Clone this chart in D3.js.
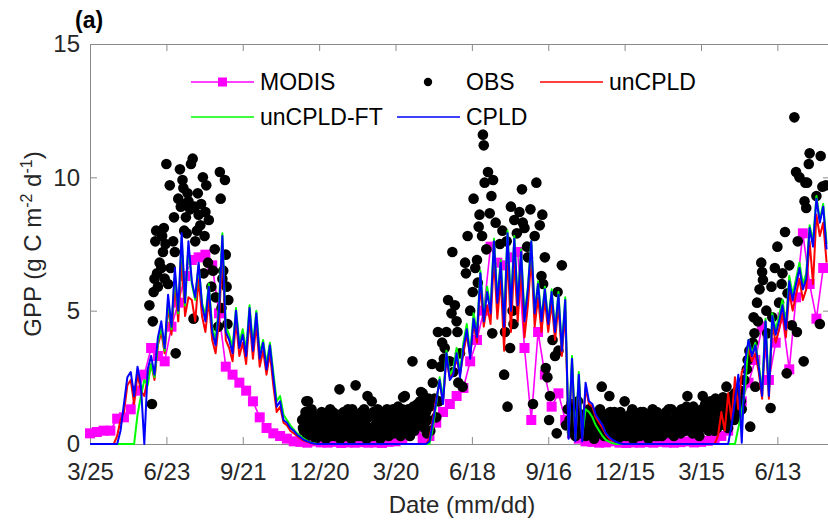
<!DOCTYPE html>
<html>
<head>
<meta charset="utf-8">
<script src="https://cdn.jsdelivr.net/npm/d3@7"></script>
<style>
  body { margin: 0; background: #fff; }
  svg { display: block; }
</style>
</head>
<body>
<div id="plot"></div>
<script>
var FONT = "'Liberation Sans', Arial, Helvetica, sans-serif";

// x ticks every 90 days, counted from 3/25 of the first year
var tickDays = [0, 90, 180, 270, 360, 450, 540, 630, 720, 810];
var tickLabels = ["3/25", "6/23", "9/21", "12/20", "3/20", "6/18", "9/16", "12/15", "3/15", "6/13"];
var yTicks = [0, 5, 10, 15];

// model runs, one value every 4 days from 3/25 (10 values = 40 days per row)
var modelStep = 4;
var cpld = [
  0, 0, 0, 0, 0, 0, 0, 0, 0, 0.5,
  1.5, 2.5, 2.7, 1.8, 2.9, 2.2, 0, 2.8, 3.3, 2.6,
  4.0, 4.6, 3.6, 5.6, 4.4, 6.6, 5.0, 7.9, 5.3, 7.6,
  6.1, 5.5, 6.8, 5.2, 4.6, 5.9, 4.2, 3.7, 5.0, 7.8,
  4.2, 3.9, 3.4, 5.0, 3.6, 4.1, 3.3, 5.1, 3.5, 4.9,
  3.2, 3.8, 2.8, 3.7, 2.5, 1.4, 1.6, 0.9, 0.8, 0.6,
  0.5, 0.35, 0.25, 0.15, 0.1, 0.05, 0.02, 0, 0, 0,
  0, 0, 0, 0, 0, 0, 0, 0, 0, 0,
  0, 0, 0, 0, 0, 0, 0, 0, 0, 0,
  0, 0, 0, 0, 0, 0, 0, 0, 0, 0,
  0.1, 0.8, 1.6, 2.4, 1.5, 3.4, 2.4, 2.6, 3.4, 2.5,
  3.6, 4.3, 3.2, 4.7, 4.0, 6.4, 4.6, 5.7, 4.9, 7.6,
  5.3, 6.8, 4.4, 7.9, 5.0, 7.7, 5.2, 7.2, 4.6, 5.8,
  7.6, 4.9, 6.0, 4.6, 5.8, 4.5, 5.7, 4.2, 5.6, 3.5,
  5.4, 0.2, 3.2, 0.1, 2.6, 0.1, 2.3, 1.6, 1.5, 1.1,
  0.9, 0.7, 0.4, 0.25, 0.15, 0.08, 0.03, 0, 0, 0,
  0, 0, 0, 0, 0, 0, 0, 0, 0, 0,
  0, 0, 0, 0, 0, 0, 0, 0, 0, 0,
  0, 0, 0, 0, 0, 0, 0, 0, 0, 0.7,
  1.6, 2.6, 0.05, 3.1, 3.9, 3.3, 3.7, 2.9, 1.8, 4.6,
  1.8, 4.8, 4.1, 4.6, 5.2, 4.3, 6.1, 5.4, 6.0, 6.6,
  5.8, 6.2, 8.1, 7.4, 9.2, 8.3, 8.9, 7.3
];
var unCpld = [
  0, 0, 0, 0, 0, 0, 0, 0, 0.3, 0.9,
  1.2, 2.2, 2.4, 1.5, 2.6, 2.0, 1.8, 2.5, 3.0, 2.4,
  3.7, 4.2, 3.4, 5.2, 4.1, 6.0, 4.6, 6.9, 4.8, 5.5,
  5.4, 4.6, 6.2, 4.8, 4.2, 5.4, 3.9, 3.4, 4.6, 7.2,
  3.9, 3.6, 3.1, 4.6, 3.3, 3.8, 3.0, 4.7, 3.2, 4.5,
  2.9, 3.5, 2.6, 3.4, 2.2, 1.2, 1.4, 0.8, 0.7, 0.5,
  0.4, 0.3, 0.2, 0.12, 0.08, 0.04, 0.02, 0, 0, 0,
  0, 0, 0, 0, 0, 0, 0, 0, 0, 0,
  0, 0, 0, 0, 0, 0, 0, 0, 0, 0,
  0, 0, 0, 0, 0, 0, 0, 0, 0, 0,
  0.2, 0.9, 1.7, 2.3, 1.6, 3.2, 2.5, 2.7, 3.2, 2.6,
  3.4, 4.1, 3.3, 4.5, 3.8, 6.0, 4.4, 5.2, 4.5, 7.0,
  4.7, 6.2, 3.5, 7.2, 4.2, 6.9, 4.6, 6.5, 4.0, 5.2,
  7.0, 4.4, 5.5, 4.2, 5.4, 4.2, 5.3, 3.9, 5.2, 3.3,
  5.0, 0.3, 3.0, 0.2, 2.4, 0.2, 2.1, 1.5, 1.4, 1.0,
  0.8, 0.6, 0.35, 0.2, 0.12, 0.06, 0.02, 0, 0, 0,
  0, 0, 0, 0, 0, 0, 0, 0, 0, 0,
  0, 0, 0, 0, 0, 0, 0, 0, 0, 0,
  0, 0, 0, 0, 0, 0.3, 1.2, 0.5, 1.9, 0.9,
  2.5, 1.3, 2.7, 2.9, 3.6, 3.1, 3.4, 2.7, 1.7, 4.3,
  1.7, 4.5, 3.8, 4.3, 4.9, 4.0, 5.7, 5.0, 5.6, 6.2,
  5.4, 5.8, 7.6, 6.0, 8.6, 7.8, 8.3, 6.8
];
var unCpldFt = [
  0, 0, 0, 0, 0, 0, 0, 0, 0, 0,
  0, 0, 0, 0, 1.1, 1.8, 2.4, 2.2, 3.0, 2.5,
  3.8, 4.4, 3.5, 5.4, 4.3, 6.4, 4.9, 7.7, 5.2, 7.4,
  6.0, 5.4, 6.7, 5.3, 4.8, 6.0, 4.4, 3.9, 5.2, 7.9,
  4.4, 4.1, 3.6, 5.1, 3.8, 4.3, 3.5, 5.2, 3.7, 5.0,
  3.4, 3.9, 3.0, 3.8, 2.7, 1.6, 1.8, 1.1, 0.9, 0.7,
  0.55, 0.4, 0.3, 0.2, 0.12, 0.06, 0.03, 0, 0, 0,
  0, 0, 0, 0, 0, 0, 0, 0, 0, 0,
  0, 0, 0, 0, 0, 0, 0, 0, 0, 0,
  0, 0, 0, 0, 0, 0, 0, 0, 0, 0,
  0, 0.6, 1.5, 2.5, 1.7, 3.5, 2.6, 2.8, 3.6, 2.7,
  3.8, 4.5, 3.4, 4.9, 4.2, 6.5, 4.8, 5.9, 5.1, 7.7,
  5.5, 6.9, 4.6, 8.0, 5.2, 7.8, 5.4, 7.3, 4.8, 5.9,
  7.6, 5.0, 6.1, 4.7, 5.9, 4.6, 5.8, 4.3, 5.7, 3.6,
  5.5, 0.3, 3.3, 0.2, 2.7, 0.3, 1.3, 1.2, 1.0, 0.7,
  0.5, 0.3, 0.15, 0.08, 0.03, 0, 0, 0, 0, 0,
  0, 0, 0, 0, 0, 0, 0, 0, 0, 0,
  0, 0, 0, 0, 0, 0, 0, 0, 0, 0,
  0, 0, 0, 0, 0, 0, 0, 0, 0, 0,
  0, 0.6, 1.2, 2.1, 3.9, 3.4, 3.8, 3.0, 2.0, 4.7,
  2.0, 4.9, 4.3, 4.8, 5.4, 4.5, 6.3, 5.6, 6.2, 6.8,
  6.0, 6.4, 8.2, 7.6, 9.3, 8.4, 9.0, 7.5
];

// MODIS 8-day composite (10 values = 80 days per row)
var modisStep = 8;
var modis = [
  0.4, 0.45, 0.5, 0.5, 0.95, 1.0, 1.3, 2.0, 2.6, 3.6,
  3.3, 3.1, 4.4, 5.3, 6.3, 6.9, 7.0, 7.1, 6.7, 4.9,
  2.9, 2.6, 2.3, 2.0, 1.6, 1.0, 0.6, 0.4, 0.3, 0.2,
  0.1, 0.08, 0.05, 0.1, 0.06, 0.05, 0.08, 0.04, 0.06, 0.05,
  0.07, 0.05, 0.06, 0.04, 0.08, 0.1, 0.15, 0.6, 0.5, 0.2,
  0.3, 0.8, 1.2, 1.5, 1.8, 2.1, 3.1, 3.9, 5.0, 7.4,
  6.8, 6.7, 7.0, 7.2, 3.6, 0.9, 4.2, 2.6, 1.4, 1.9,
  0.9, 0.4, 0.2, 0.1, 0.08, 0.05, 0.06, 0.1, 0.05, 0.04,
  0.06, 0.05, 0.07, 0.05, 0.08, 0.06, 0.05, 0.07, 0.1, 0.06,
  0.08, 0.12, 0.15, 0.3, 0.5, 1.0, 1.6, 2.3, 3.15, 4.4,
  2.4, 3.8, 4.75, 2.8, 5.5, 7.9, 6.0, 4.7, 6.6
];

// tower observations: [days since 3/25, GPP]
var obs = [
  // growing season, year 1
  [70,5.2],[73,1.5],[74,4.6],[75,5.7],[76,6.2],[77,7.6],[78,8.0],[79,6.4],[80,5.9],[82,6.8],
  [84,6.6],[85,7.8],[86,7.2],[87,8.1],[88,6.2],[89,7.5],[90,10.5],[92,6.0],[94,9.7],[95,6.6],
  [98,7.6],[99,8.5],[100,7.2],[101,3.4],[104,9.2],[106,10.3],[107,8.9],[109,9.9],[110,9.6],[111,8.0],
  [112,9.0],[113,8.5],[114,7.9],[115,9.4],[116,9.1],[118,8.8],[119,10.5],[121,10.7],[122,4.7],[123,8.9],
  [124,7.6],[126,8.0],[127,9.4],[128,8.6],[130,8.2],[131,9.0],[133,10.0],[134,6.4],[135,7.8],[136,8.7],
  [137,9.7],[139,6.8],[140,8.4],[143,5.9],[145,6.5],[147,7.3],[148,5.5],[151,4.4],[153,10.2],[154,9.2],
  [155,5.1],[156,6.2],[157,6.5],[159,9.9],[160,7.1],[161,5.9],[162,4.5],[163,5.4],
  // winter 1
  [250,0.9],[252,0.5],[254,1.2],[255,1.6],[256,0.3],[257,1.6],[258,0.7],[260,1.0],[262,0.4],[264,0.8],
  [266,0.2],[268,0.6],[270,1.1],[272,0.3],[274,0.9],[276,0.5],[278,0.2],[280,1.0],[282,0.6],[284,0.3],
  [286,1.2],[288,0.7],[290,0.4],[292,0.9],[294,2.05],[295,0.2],[296,1.1],[298,0.5],[300,0.8],[302,0.3],
  [304,1.3],[306,0.6],[308,0.2],[310,0.9],[312,0.5],[313,2.2],[314,1.1],[316,0.3],[318,0.7],[320,1.2],
  [322,0.4],[324,0.8],[326,0.2],[327,1.8],[328,1.0],[330,0.6],[332,1.6],[333,0.3],[334,1.2],[336,0.7],
  [338,0.4],[340,0.9],[342,0.2],[344,1.1],[346,0.5],[348,0.8],[350,1.3],[352,0.3],[354,0.7],[356,1.0],
  [358,0.4],[360,1.2],[362,0.6],[364,0.9],[366,0.3],[368,1.3],[369,1.75],[370,0.7],[371,1.8],[372,1.0],
  [374,0.4],[376,1.2],[378,0.8],[380,3.1],[381,1.4],[382,0.5],[384,1.1],[386,1.5],[387,0.7],[388,1.3],
  [389,1.6],[390,1.95],[391,0.9],[392,1.9],[393,1.5],[394,0.6],[396,1.2],[398,0.9],[400,1.4],[401,0.5],
  [403,3.0],[404,2.3],[406,1.7],[408,1.0],
  [251,0.6],[253,1.0],[259,0.4],[261,1.3],[263,0.6],[265,1.0],[267,0.5],[269,0.9],[271,0.3],[273,1.2],
  [275,0.7],[277,1.0],[279,0.4],[281,0.8],[283,1.3],[285,0.5],[287,0.9],[289,0.3],[291,1.1],[293,0.6],
  [297,0.8],[299,1.2],[301,0.6],[303,0.9],[305,0.4],[307,1.0],[309,1.3],[311,0.7],[315,0.5],[317,1.0],
  [319,0.3],[321,0.8],[323,1.3],[325,0.6],[329,0.4],[331,1.1],[335,0.5],[337,1.0],[339,1.3],[341,0.6],
  [343,0.8],[345,0.3],[347,1.2],[349,0.5],[351,0.9],[353,1.1],[355,0.4],[357,1.3],[359,0.7],[361,0.9],
  [363,1.4],[365,0.5],[367,1.0],[373,0.6],[375,1.3],[377,0.3],[379,1.0],[383,0.8],[385,1.4],[395,1.0],
  [397,0.4],[399,1.7],
  // growing season, year 2
  [410,4.2],[411,1.6],[413,2.9],[415,3.8],[417,3.2],[418,3.6],[420,4.2],[422,5.4],[424,3.1],[426,4.9],
  [427,7.2],[428,2.7],[430,5.2],[432,4.6],[433,4.2],[434,2.3],[436,3.4],[439,2.15],[442,6.8],[443,6.4],
  [445,7.8],[448,5.0],[451,5.7],[452,9.2],[454,6.6],[456,6.9],[457,6.05],[458,8.15],[459,8.6],[462,7.8],
  [463,11.6],[464,11.2],[465,9.8],[467,7.3],[469,10.2],[471,8.65],[473,9.3],[474,4.15],[475,9.9],[478,8.3],
  [483,7.5],[486,8.0],[488,2.6],[489,4.2],[491,7.6],[492,1.4],[495,3.6],[496,8.9],[498,5.0],[499,4.5],
  [500,8.4],[503,7.9],[506,8.7],[509,9.55],[510,8.3],[512,8.1],[515,7.4],[516,7.0],[519,8.8],[522,1.5],
  [524,7.8],[526,9.8],[530,8.2],[532,6.3],[533,8.6],[534,6.0],[536,7.0],[537,2.85],[539,2.5],[541,0.9],
  [542,1.8],[545,3.9],[548,3.3],[550,0.4],[551,5.7],[552,3.5],[556,6.7],[563,1.3],[565,0.9],[568,0.45],
  [570,1.0],[572,0.3],[574,1.2],[576,0.6],[578,0.9],
  [561,0.7],[567,1.5],[569,0.6],[571,1.4],[573,0.8],[575,1.6],[577,0.4],[579,1.1],
  // winter 2
  [580,0.5],[582,1.0],[584,0.3],[586,0.8],[587,0.5],[588,1.3],[590,0.4],[592,0.9],[594,0.2],[596,0.7],
  [597,1.0],[598,1.1],[600,0.4],[602,0.8],[603,2.15],[606,0.3],[608,1.0],[610,0.5],[612,1.8],[614,0.9],
  [616,0.3],[618,1.2],[620,0.6],[622,0.2],[624,0.8],[626,0.4],[628,1.0],[630,1.6],[632,0.3],[634,0.7],
  [636,1.1],[638,0.4],[640,0.2],[642,0.8],[644,0.5],[646,1.0],[648,0.3],[650,0.7],[652,1.2],[654,0.4],
  [656,0.8],[658,0.2],[660,1.0],[662,0.5],[664,0.9],[666,0.3],[668,1.2],[670,0.6],[672,0.9],[674,0.3],
  [676,1.1],[678,0.5],[680,0.8],[682,1.3],[684,0.4],[686,0.9],[688,0.3],[690,1.0],[692,0.6],[694,1.2],
  [696,0.4],[698,0.8],[700,1.1],[702,0.5],[704,1.8],[706,0.9],[708,1.3],[710,0.4],[712,1.0],[714,0.7],
  [716,1.2],[718,0.3],[720,0.9],[722,1.8],[724,1.1],[726,0.6],[728,1.4],[730,0.8],[732,1.2],[734,1.4],
  [736,0.5],[738,1.0],[740,1.5],[742,0.7],[744,1.2],[746,1.75],[748,0.9],[750,2.15],[751,1.3],[752,0.6],
  [754,1.6],[756,1.0],[758,1.4],[760,1.9],[762,1.1],[764,1.7],[766,2.0],[768,1.3],
  [581,0.8],[583,0.4],[585,1.1],[589,0.7],[591,1.2],[593,0.5],[595,1.0],[599,0.6],[601,1.3],[605,0.6],
  [607,1.1],[609,0.3],[611,0.8],[613,1.2],[615,0.5],[617,0.9],[619,0.4],[621,1.0],[623,0.6],[625,1.2],
  [627,0.3],[629,0.8],[631,0.5],[633,1.0],[635,0.4],[637,0.8],[639,1.3],[641,0.5],[643,1.0],[645,0.3],
  [647,0.7],[649,1.2],[651,0.4],[653,0.9],[655,0.6],[657,1.1],[659,0.4],[661,0.7],[663,1.3],[665,0.6],
  [667,0.8],[669,0.3],[671,1.1],[673,0.6],[675,0.8],[677,0.4],[679,1.2],[681,0.6],[683,0.9],[685,1.3],
  [687,0.5],[689,0.8],[691,0.4],[693,1.0],[695,0.7],[697,1.3],[699,0.5],[701,0.9],[703,1.4],[705,0.6],
  [707,1.1],[709,0.7],[711,1.4],[713,0.5],[715,0.9],[717,1.1],[719,0.6],[721,1.3],[723,0.7],[725,1.5],
  [727,1.0],[729,0.5],[731,1.6],[733,0.9],[735,1.2],[737,1.7],[739,0.6],[741,1.3],[743,0.9],[745,1.6],
  [747,1.1],[749,0.7],[753,1.5],[755,1.1],[757,1.8],[759,0.9],[761,1.5],[763,2.0],[765,1.2],[767,1.6],
  // growing season, year 3
  [771,2.4],[774,2.8],[775,3.15],[777,3.5],[778,0.65],[781,3.8],[782,4.75],[783,4.15],[784,2.15],[786,5.3],
  [787,4.6],[789,5.8],[791,6.8],[792,6.45],[793,6.15],[797,5.0],[798,4.15],[802,1.35],[803,5.9],[804,4.75],
  [807,6.6],[810,7.4],[812,5.3],[815,6.0],[816,6.4],[819,7.95],[821,2.65],[822,5.65],[824,6.7],[827,4.45],
  [830,12.25],[832,10.2],[833,4.2],[834,7.6],[836,10.0],[841,3.1],[842,9.1],[843,9.8],[844,8.85],[845,9.8],
  [847,10.5],[848,10.9],[856,9.3],[860,4.5],[861,10.8],[863,9.65],[867,9.7]
];

var legendNames = ["MODIS", "OBS", "unCPLD", "unCPLD-FT", "CPLD"];

// ---------------------------------------------------------------
var svg = d3.select("#plot")
    .append("svg")
    .attr("width", 828)
    .attr("height", 523)
    .style("font-family", FONT);

// the right edge of the box sits just outside the picture
var x = d3.scaleLinear()
    .domain([0, 872])
    .range([90, 830]);

var y = d3.scaleLinear()
    .domain([0, 15])
    .range([444, 44]);

var axisColor = "#8a8a8a";

function styleAxis(g, showText) {
    g.attr("font-family", null).attr("font-size", null);
    g.select(".domain").attr("stroke", axisColor);
    g.selectAll(".tick line").attr("stroke", axisColor);
    g.selectAll(".tick text")
        .attr("fill", "#262626")
        .style("font-size", "24px")
        .style("font-family", FONT);
    if (!showText) g.selectAll(".tick text").remove();
}

// axes go under the data, like MATLAB's default layer
svg.append("g")
    .attr("transform", "translate(0,444)")
    .call(d3.axisBottom(x).tickValues(tickDays)
        .tickFormat((d, i) => tickLabels[i])
        .tickSizeInner(-7).tickSizeOuter(0).tickPadding(19))
    .call(g => styleAxis(g, true));

svg.append("g")
    .attr("transform", "translate(0,44)")
    .call(d3.axisTop(x).tickValues(tickDays)
        .tickSizeInner(-7).tickSizeOuter(0))
    .call(g => styleAxis(g, false));

svg.append("g")
    .attr("transform", "translate(90,0)")
    .call(d3.axisLeft(y).tickValues(yTicks)
        .tickSizeInner(-7).tickSizeOuter(0).tickPadding(10))
    .call(g => styleAxis(g, true));

svg.append("g")
    .attr("transform", "translate(830,0)")
    .call(d3.axisRight(y).tickValues(yTicks)
        .tickSizeInner(-7).tickSizeOuter(0))
    .call(g => styleAxis(g, false));

// MODIS: line with square markers
var modisLine = d3.line()
    .x((d, i) => x(i * modisStep))
    .y(d => y(d));

svg.append("path")
    .datum(modis)
    .attr("fill", "none")
    .attr("stroke", "#ff00ff")
    .attr("stroke-width", 1.6)
    .attr("d", modisLine);

svg.append("g").selectAll("rect")
    .data(modis)
    .enter()
    .append("rect")
    .attr("x", (d, i) => x(i * modisStep) - 5)
    .attr("y", d => y(d) - 5)
    .attr("width", 10)
    .attr("height", 10)
    .attr("fill", "#ff00ff");

// OBS dots
svg.append("g").selectAll("circle")
    .data(obs)
    .enter()
    .append("circle")
    .attr("cx", d => x(d[0]))
    .attr("cy", d => y(d[1]))
    .attr("r", 5.3)
    .attr("fill", "#000");

// model lines, CPLD on top
var modelLine = d3.line()
    .x((d, i) => x(i * modelStep))
    .y(d => y(d));

var runs = [
    {vals: unCpld, color: "#ff0000"},
    {vals: unCpldFt, color: "#00ff00"},
    {vals: cpld, color: "#0000ff"}
];
runs.forEach(function(r) {
    svg.append("path")
        .datum(r.vals)
        .attr("fill", "none")
        .attr("stroke", r.color)
        .attr("stroke-width", 2)
        .attr("stroke-linejoin", "round")
        .attr("d", modelLine);
});

// legend, 3 columns x 2 rows
var legendCols = [191, 397, 540];
var legendRows = [82, 117];
var legendColors = ["#ff00ff", "#000", "#ff0000", "#00ff00", "#0000ff"];

var legend = svg.append("g");
legendNames.forEach(function(name, i) {
    var lx = legendCols[i % 3],
        ly = legendRows[Math.floor(i / 3)];
    var item = legend.append("g").attr("transform", `translate(${lx},${ly})`);
    if (name === "OBS") {
        item.append("circle").attr("cx", 31).attr("cy", 0).attr("r", 4.2).attr("fill", "#000");
    } else {
        item.append("line")
            .attr("x1", 0).attr("x2", 63)
            .attr("stroke", legendColors[i])
            .attr("stroke-width", 1.7);
        if (name === "MODIS")
            item.append("rect").attr("x", 27).attr("y", -4.5)
                .attr("width", 9).attr("height", 9).attr("fill", legendColors[i]);
    }
    item.append("text")
        .attr("x", 69)
        .attr("dy", "0.36em")
        .style("font-size", "23px")
        .attr("fill", "#000")
        .text(name);
});

// axis labels
svg.append("text")
    .attr("x", 462)
    .attr("y", 513)
    .style("text-anchor", "middle")
    .style("font-size", "24px")
    .attr("fill", "#262626")
    .text("Date (mm/dd)");

var ylab = svg.append("text")
    .attr("transform", "translate(41,244) rotate(-90)")
    .style("text-anchor", "middle")
    .style("font-size", "24px")
    .attr("fill", "#262626");
ylab.append("tspan").text("GPP (g C m");
ylab.append("tspan").attr("dy", -9).style("font-size", "16px").text("-2");
ylab.append("tspan").attr("dy", 9).text(" d");
ylab.append("tspan").attr("dy", -9).style("font-size", "16px").text("-1");
ylab.append("tspan").attr("dy", 9).text(")");

// panel tag
svg.append("text")
    .attr("x", 75)
    .attr("y", 28)
    .style("font-size", "23px")
    .style("font-weight", "bold")
    .attr("fill", "#000")
    .text("(a)");
</script>
</body>
</html>
